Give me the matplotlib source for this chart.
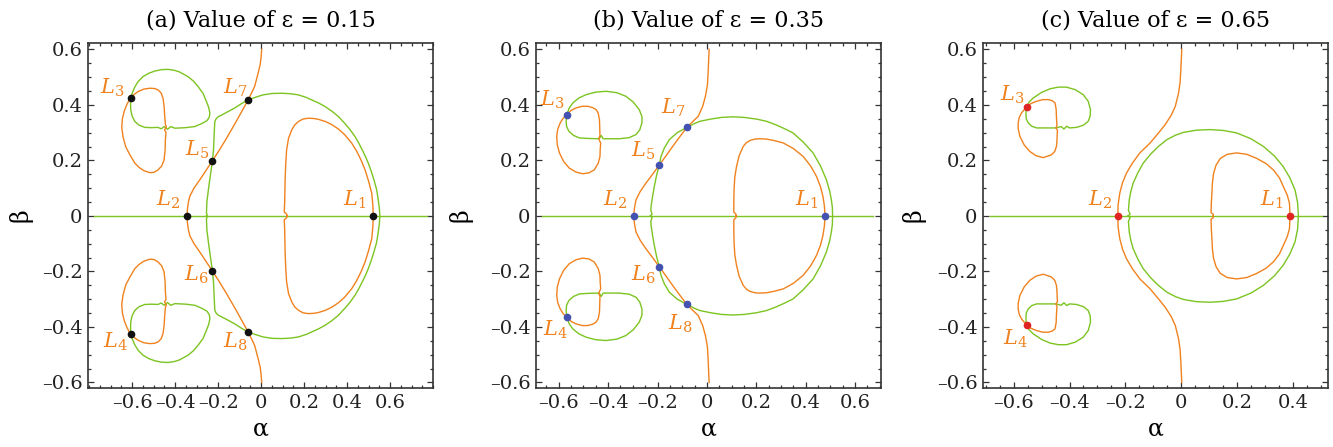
import numpy as np
import matplotlib.pyplot as plt
from matplotlib.ticker import MultipleLocator, FuncFormatter

plt.rcParams['font.family'] = ['DejaVu Serif']
plt.rcParams['mathtext.fontset'] = 'dejavuserif'

# ---- equilibrium-curve traces, upper half (beta >= 0), as (alpha, beta) ----
# eps = 0.15
a_axis = (-0.775, 0.771)
a_ring = [(-0.254, 0.0), (-0.250, 0.004), (-0.254, 0.010), (-0.252, 0.050), (-0.243, 0.106),
          (-0.235, 0.150), (-0.226, 0.199), (-0.221, 0.240), (-0.219, 0.274), (-0.217, 0.310),
          (-0.215, 0.340), (-0.209, 0.350), (-0.200, 0.357), (-0.175, 0.367), (-0.153, 0.376),
          (-0.120, 0.390), (-0.090, 0.405), (-0.060, 0.418), (-0.028, 0.427), (0.009, 0.436),
          (0.050, 0.441), (0.096, 0.442), (0.140, 0.440), (0.174, 0.436), (0.210, 0.427),
          (0.236, 0.418), (0.270, 0.406), (0.298, 0.394), (0.330, 0.377), (0.360, 0.358),
          (0.390, 0.333), (0.415, 0.310), (0.437, 0.286), (0.455, 0.262), (0.472, 0.236),
          (0.487, 0.212), (0.499, 0.190), (0.513, 0.160), (0.526, 0.128), (0.538, 0.094),
          (0.545, 0.060), (0.550, 0.030), (0.553, 0.0)]
a_branch = [(-0.344, 0.0), (-0.343, 0.020), (-0.339, 0.045), (-0.332, 0.070), (-0.312, 0.100),
            (-0.285, 0.130), (-0.255, 0.165), (-0.226, 0.199), (-0.195, 0.236), (-0.165, 0.274),
            (-0.138, 0.310), (-0.110, 0.348), (-0.085, 0.383), (-0.060, 0.418), (-0.044, 0.443),
            (-0.030, 0.466), (-0.015, 0.510), (-0.004, 0.545), (0.000, 0.570), (0.003, 0.600)]
a_inner = [(0.120, 0.0), (0.120, 0.006), (0.108, 0.014), (0.110, 0.050), (0.112, 0.130),
           (0.115, 0.190), (0.119, 0.238), (0.128, 0.280), (0.143, 0.310), (0.157, 0.328),
           (0.174, 0.340), (0.195, 0.349), (0.220, 0.352), (0.245, 0.351), (0.267, 0.348),
           (0.300, 0.340), (0.329, 0.329), (0.360, 0.313), (0.390, 0.292), (0.422, 0.262),
           (0.445, 0.233), (0.466, 0.200), (0.484, 0.166), (0.500, 0.126), (0.515, 0.082),
           (0.520, 0.040), (0.522, 0.0)]
a_lobe_green = [(-0.606, 0.424), (-0.598, 0.445), (-0.587, 0.465), (-0.572, 0.484), (-0.549, 0.502),
                (-0.522, 0.514), (-0.494, 0.522), (-0.463, 0.527), (-0.433, 0.528), (-0.405, 0.525),
                (-0.380, 0.519), (-0.340, 0.502), (-0.315, 0.486), (-0.293, 0.466), (-0.270, 0.442),
                (-0.254, 0.412), (-0.243, 0.390), (-0.238, 0.370), (-0.241, 0.355), (-0.252, 0.343),
                (-0.275, 0.333), (-0.308, 0.322), (-0.350, 0.318), (-0.401, 0.316), (-0.420, 0.322),
                (-0.435, 0.312), (-0.450, 0.322), (-0.464, 0.314), (-0.480, 0.319), (-0.510, 0.318),
                (-0.541, 0.319), (-0.567, 0.327), (-0.587, 0.340), (-0.600, 0.360), (-0.606, 0.382),
                (-0.607, 0.405), (-0.606, 0.424)]
a_lobe_orange = [(-0.606, 0.424), (-0.590, 0.438), (-0.572, 0.448), (-0.545, 0.457), (-0.518, 0.460),
                 (-0.495, 0.459), (-0.479, 0.454), (-0.465, 0.443), (-0.456, 0.424), (-0.451, 0.395),
                 (-0.448, 0.358), (-0.445, 0.330), (-0.440, 0.320), (-0.449, 0.310), (-0.442, 0.300),
                 (-0.445, 0.274), (-0.446, 0.240), (-0.451, 0.202), (-0.462, 0.180), (-0.479, 0.166),
                 (-0.498, 0.157), (-0.518, 0.156), (-0.545, 0.163), (-0.568, 0.175), (-0.587, 0.190),
                 (-0.610, 0.220), (-0.630, 0.250), (-0.642, 0.285), (-0.648, 0.318), (-0.645, 0.350),
                 (-0.636, 0.378), (-0.624, 0.402), (-0.614, 0.416), (-0.606, 0.424)]
a_points = [(0.522, 0.0), (-0.344, 0.0), (-0.606, 0.424), (-0.606, -0.424),
            (-0.226, 0.199), (-0.226, -0.199), (-0.060, 0.418), (-0.060, -0.418)]
a_labels = [(0.437, 0.058), (-0.431, 0.058), (-0.691, 0.460), (-0.679, -0.453),
            (-0.299, 0.238), (-0.299, -0.212), (-0.121, 0.463), (-0.121, -0.453)]

# eps = 0.35
b_axis = (-0.668, 0.673)
b_ring = [(-0.229, 0.0), (-0.222, 0.006), (-0.227, 0.020), (-0.226, 0.034), (-0.220, 0.070),
          (-0.213, 0.106), (-0.204, 0.145), (-0.193, 0.183), (-0.186, 0.214), (-0.172, 0.245),
          (-0.152, 0.275), (-0.120, 0.300), (-0.081, 0.319), (-0.050, 0.333), (-0.028, 0.341),
          (0.016, 0.349), (0.060, 0.355), (0.106, 0.357), (0.150, 0.355), (0.200, 0.349),
          (0.241, 0.341), (0.280, 0.328), (0.315, 0.314), (0.349, 0.299), (0.390, 0.266),
          (0.430, 0.227), (0.460, 0.180), (0.484, 0.130), (0.497, 0.090), (0.504, 0.058),
          (0.508, 0.030), (0.509, 0.0)]
b_branch = [(-0.296, 0.0), (-0.295, 0.015), (-0.293, 0.030), (-0.287, 0.058), (-0.270, 0.088),
            (-0.247, 0.118), (-0.220, 0.150), (-0.193, 0.183), (-0.166, 0.216), (-0.139, 0.250),
            (-0.110, 0.285), (-0.081, 0.319), (-0.055, 0.342), (-0.035, 0.359), (-0.017, 0.395),
            (-0.006, 0.431), (0.002, 0.470), (0.005, 0.516), (0.007, 0.560), (0.009, 0.600)]
b_inner = [(0.118, 0.0), (0.118, 0.006), (0.109, 0.014), (0.109, 0.050), (0.110, 0.094),
           (0.113, 0.140), (0.120, 0.178), (0.131, 0.218), (0.147, 0.250), (0.160, 0.264),
           (0.175, 0.272), (0.195, 0.277), (0.214, 0.278), (0.240, 0.277), (0.270, 0.272),
           (0.309, 0.263), (0.350, 0.243), (0.390, 0.214), (0.420, 0.180), (0.444, 0.142),
           (0.460, 0.105), (0.470, 0.070), (0.476, 0.035), (0.478, 0.0)]
b_lobe_green = [(-0.567, 0.365), (-0.558, 0.388), (-0.543, 0.407), (-0.518, 0.425), (-0.489, 0.437),
                (-0.450, 0.446), (-0.408, 0.449), (-0.365, 0.444), (-0.328, 0.431), (-0.298, 0.410),
                (-0.274, 0.383), (-0.263, 0.358), (-0.263, 0.335), (-0.272, 0.310), (-0.287, 0.293),
                (-0.315, 0.282), (-0.355, 0.278), (-0.420, 0.278), (-0.428, 0.290), (-0.436, 0.278),
                (-0.480, 0.279), (-0.516, 0.281), (-0.540, 0.290), (-0.559, 0.305), (-0.568, 0.322),
                (-0.570, 0.341), (-0.567, 0.365)]
b_lobe_orange = [(-0.567, 0.365), (-0.550, 0.380), (-0.530, 0.389), (-0.505, 0.395), (-0.482, 0.395),
                 (-0.462, 0.390), (-0.449, 0.383), (-0.440, 0.370), (-0.435, 0.347), (-0.433, 0.290),
                 (-0.438, 0.278), (-0.430, 0.262), (-0.432, 0.240), (-0.433, 0.214), (-0.440, 0.190),
                 (-0.456, 0.166), (-0.478, 0.155), (-0.503, 0.152), (-0.530, 0.158), (-0.557, 0.172),
                 (-0.580, 0.196), (-0.597, 0.227), (-0.606, 0.257), (-0.608, 0.287), (-0.604, 0.312),
                 (-0.594, 0.335), (-0.582, 0.352), (-0.567, 0.365)]
b_points = [(0.478, 0.0), (-0.296, 0.0), (-0.567, 0.365), (-0.567, -0.365),
            (-0.193, 0.183), (-0.193, -0.183), (-0.081, 0.319), (-0.081, -0.319)]
b_labels = [(0.403, 0.058), (-0.372, 0.058), (-0.628, 0.419), (-0.615, -0.412),
            (-0.257, 0.233), (-0.257, -0.213), (-0.136, 0.389), (-0.109, -0.388)]

# eps = 0.65
c_axis = (-0.684, 0.504)
c_ring = [(-0.190, 0.0), (-0.183, 0.006), (-0.189, 0.020), (-0.186, 0.058), (-0.180, 0.090),
          (-0.172, 0.118), (-0.155, 0.156), (-0.136, 0.190), (-0.110, 0.222), (-0.082, 0.250),
          (-0.051, 0.275), (-0.020, 0.291), (0.008, 0.301), (0.055, 0.309), (0.104, 0.311),
          (0.150, 0.308), (0.199, 0.299), (0.250, 0.278), (0.295, 0.250), (0.335, 0.215),
          (0.366, 0.177), (0.390, 0.136), (0.408, 0.093), (0.417, 0.048), (0.420, 0.0)]
c_branch = [(-0.227, 0.0), (-0.226, 0.040), (-0.220, 0.082), (-0.210, 0.120), (-0.196, 0.154),
            (-0.175, 0.190), (-0.148, 0.227), (-0.111, 0.263), (-0.082, 0.298), (-0.058, 0.328),
            (-0.036, 0.362), (-0.021, 0.395), (-0.010, 0.440), (-0.004, 0.480), (-0.001, 0.530),
            (0.002, 0.600)]
c_inner = [(0.115, 0.0), (0.115, 0.006), (0.107, 0.012), (0.108, 0.045), (0.110, 0.081),
           (0.112, 0.120), (0.116, 0.153), (0.125, 0.183), (0.140, 0.207), (0.165, 0.222),
           (0.199, 0.227), (0.235, 0.222), (0.271, 0.207), (0.305, 0.188), (0.331, 0.165),
           (0.352, 0.137), (0.366, 0.106), (0.380, 0.075), (0.388, 0.046), (0.390, 0.0)]
c_lobe_green = [(-0.554, 0.393), (-0.545, 0.410), (-0.530, 0.425), (-0.500, 0.445), (-0.470, 0.458),
                (-0.440, 0.464), (-0.411, 0.464), (-0.380, 0.455), (-0.351, 0.437), (-0.333, 0.413),
                (-0.325, 0.383), (-0.326, 0.360), (-0.333, 0.341), (-0.350, 0.327), (-0.375, 0.319),
                (-0.400, 0.317), (-0.410, 0.323), (-0.420, 0.313), (-0.430, 0.322), (-0.447, 0.317),
                (-0.480, 0.317), (-0.518, 0.317), (-0.535, 0.323), (-0.548, 0.335), (-0.555, 0.350),
                (-0.556, 0.365), (-0.556, 0.380), (-0.554, 0.393)]
c_lobe_orange = [(-0.554, 0.393), (-0.538, 0.405), (-0.518, 0.413), (-0.496, 0.419), (-0.476, 0.419),
                 (-0.462, 0.415), (-0.452, 0.407), (-0.448, 0.385), (-0.447, 0.359), (-0.445, 0.325),
                 (-0.449, 0.317), (-0.443, 0.308), (-0.444, 0.299), (-0.445, 0.270), (-0.447, 0.250),
                 (-0.453, 0.232), (-0.465, 0.220), (-0.494, 0.210), (-0.520, 0.217), (-0.542, 0.232),
                 (-0.562, 0.255), (-0.578, 0.287), (-0.584, 0.315), (-0.584, 0.335), (-0.580, 0.355),
                 (-0.572, 0.371), (-0.554, 0.393)]
c_points = [(0.390, 0.0), (-0.227, 0.0), (-0.554, 0.393), (-0.554, -0.393)]
c_labels = [(0.325, 0.058), (-0.290, 0.058), (-0.607, 0.437), (-0.595, -0.442)]

eps_values = [0.15, 0.35, 0.65]
tags = ['(a)', '(b)', '(c)']
x_limits = [(-0.805, 0.800), (-0.692, 0.705), (-0.710, 0.526)]
y_limits = (-0.620, 0.623)
tick_values = [-0.6, -0.4, -0.2, 0, 0.2, 0.4, 0.6]
point_colors = ['#111111', '#4352b0', '#e02424']

ORANGE = '#f0821e'
GREEN = '#7cc421'
FRAME = '#333333'


def closed_loop(upper):
    # upper half traced left -> right along beta >= 0, closed through its mirror image
    u = np.asarray(upper)
    return np.vstack([u, (u * [1, -1])[::-1]])


def open_branch(upper):
    u = np.asarray(upper)
    return np.vstack([(u * [1, -1])[::-1], u])


def tick_text(v, _):
    if abs(v) < 1e-9:
        return '0'
    return f'{v:.1f}'.replace('-', '\u2013')


panels = [
    (a_axis, a_ring, a_branch, a_inner, a_lobe_green, a_lobe_orange, a_points, a_labels),
    (b_axis, b_ring, b_branch, b_inner, b_lobe_green, b_lobe_orange, b_points, b_labels),
    (c_axis, c_ring, c_branch, c_inner, c_lobe_green, c_lobe_orange, c_points, c_labels),
]
lefts = [88, 536, 983]
ylabel_x = [-0.162, -0.183, -0.168]

fig = plt.figure(figsize=(13.33, 4.47), dpi=100)

for i, (axis, ring, branch, inner, lobe_g, lobe_o, pts, labs) in enumerate(panels):
    ax = fig.add_axes([lefts[i] / 1333, 59 / 447, 345 / 1333, 345 / 447])

    kw = dict(lw=1.0, solid_joinstyle='round')
    # green: d/d(beta) = 0 set
    ax.plot(axis, [0, 0], color=GREEN, **kw)
    r = closed_loop(ring)
    ax.plot(r[:, 0], r[:, 1], color=GREEN, **kw)
    lg = np.asarray(lobe_g)
    ax.plot(lg[:, 0], lg[:, 1], color=GREEN, **kw)
    ax.plot(lg[:, 0], -lg[:, 1], color=GREEN, **kw)
    # orange: d/d(alpha) = 0 set
    br = open_branch(branch)
    ax.plot(br[:, 0], br[:, 1], color=ORANGE, **kw)
    inn = closed_loop(inner)
    ax.plot(inn[:, 0], inn[:, 1], color=ORANGE, **kw)
    lo = np.asarray(lobe_o)
    ax.plot(lo[:, 0], lo[:, 1], color=ORANGE, **kw)
    ax.plot(lo[:, 0], -lo[:, 1], color=ORANGE, **kw)

    p = np.asarray(pts)
    ax.plot(p[:, 0], p[:, 1], 'o', ms=4.5, color=point_colors[i], zorder=5)
    for k, (lx, ly) in enumerate(labs):
        ax.text(lx, ly, f'$L_{{{k + 1}}}$', color=ORANGE, fontsize=15,
                ha='center', va='center')

    lo_x, hi_x = x_limits[i]
    ax.set_xticks([t for t in tick_values if lo_x <= t <= hi_x])
    ax.set_yticks(tick_values)
    ax.set_xlim(lo_x, hi_x)
    ax.set_ylim(*y_limits)
    ax.xaxis.set_major_formatter(FuncFormatter(tick_text))
    ax.yaxis.set_major_formatter(FuncFormatter(tick_text))
    ax.xaxis.set_minor_locator(MultipleLocator(0.05))
    ax.yaxis.set_minor_locator(MultipleLocator(0.05))
    ax.tick_params(which='both', direction='in', top=True, right=True,
                   color=FRAME, width=0.9, labelsize=14, labelcolor='#222222')
    ax.tick_params(which='major', length=4.5, pad=4)
    ax.tick_params(which='minor', length=2.2)
    for s in ax.spines.values():
        s.set_color(FRAME)
        s.set_linewidth(1.2)

    ax.set_xlabel('\u03b1', fontsize=17)
    ax.set_ylabel('\u03b2', fontsize=17)
    ax.xaxis.set_label_coords(0.5, -0.085)
    ax.yaxis.set_label_coords(ylabel_x[i], 0.5)
    ax.set_title(f'{tags[i]} Value of \u03b5 = {eps_values[i]}', fontsize=16, pad=12)

fig.savefig('out.png', dpi=100)
